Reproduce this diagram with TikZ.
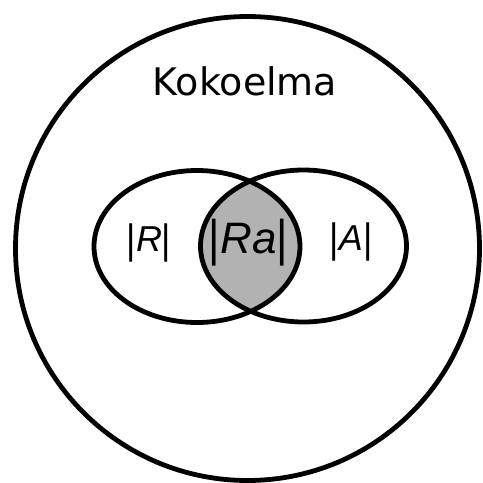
\documentclass[tikz,border=0pt]{standalone}
\usepackage{fontspec}
\usepackage{graphicx}
\setmainfont{DejaVu Sans}
\newfontfamily\labelfont{Liberation Sans}
\usetikzlibrary{positioning}

% a slightly longer bar for the set sizes
\newcommand{\tallbar}{\raisebox{-0.045em}{\scalebox{1}[1.14]{|}}}

\begin{document}
\begin{tikzpicture}[x=1pt, y=-1pt, line width=4.8pt]
		% Define the sizes (picture units are pixels of the image)
		\def\rx{103}
		\def\ry{76}
		
		% Fix the page to the image size
		\useasboundingbox (0,0) rectangle (483,483);
		
		% Centres of the sets
		\coordinate (koko) at (247.5,248.5);
		\coordinate (rel) at (197,246.5);
		\coordinate (ans) at (303.5,246);
		
		% Shaded intersection
		\begin{scope}
			\clip (rel) ellipse [x radius=\rx, y radius=\ry];
			\fill[black!30] (ans) ellipse [x radius=\rx, y radius=\ry];
		\end{scope}
		
		% Outlines
		\draw (koko) circle (232);
		\draw (rel) ellipse [x radius=\rx, y radius=\ry];
		\draw (ans) ellipse [x radius=\rx, y radius=\ry];
		
		% Labels
		\node[anchor=base, font=\fontsize{38}{40}\selectfont] (kokoelma) at (245,95.5) {Kokoelma};
		\node[font=\labelfont\fontsize{36}{40}\selectfont] (r) at (149,242.5) {\tallbar\textit{R}\tallbar};
		\node[font=\labelfont\fontsize{44}{48}\selectfont] (ra) at (248.5,243) {\tallbar\textit{Ra}\tallbar};
		\node[font=\labelfont\fontsize{36}{40}\selectfont] (a) at (351,242) {\tallbar\textit{A}\tallbar};
		
	\end{tikzpicture}
\end{document}
